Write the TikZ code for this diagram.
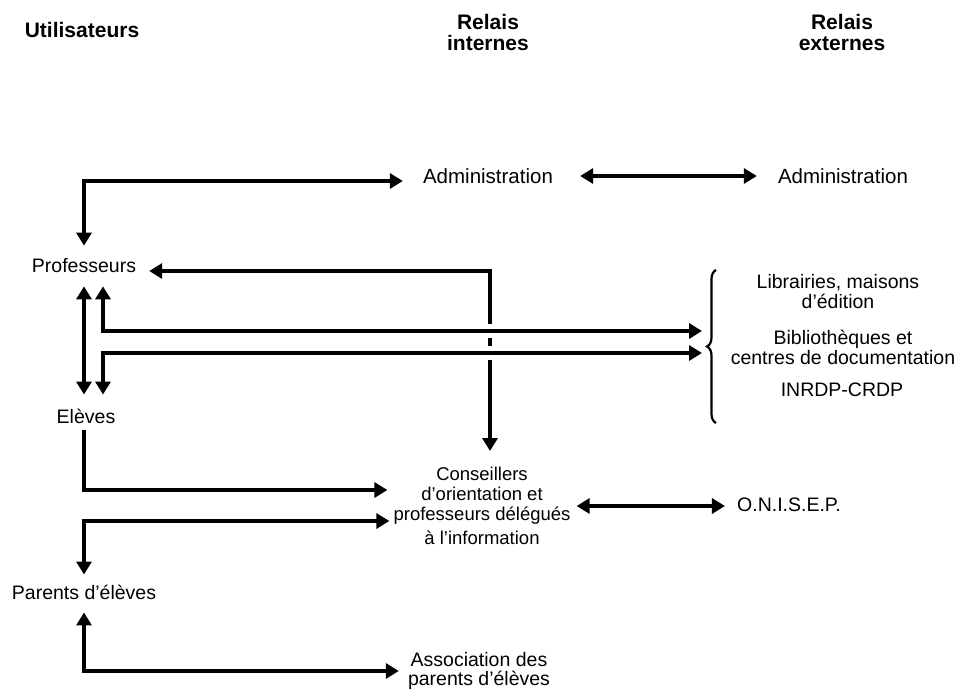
\documentclass[tikz,border=0pt]{standalone}
\usepackage{fontspec}
\setmainfont{Liberation Sans}
\usetikzlibrary{arrows.meta,decorations.pathreplacing}
\begin{document}
\begin{tikzpicture}[x=1pt,y=-1pt,
  lbl/.style={inner sep=0pt, font=\fontsize{19.5}{20}\selectfont, align=center},
  head/.style={inner sep=0pt, font=\fontsize{21}{21}\selectfont\bfseries, align=center},
  link/.style={line width=3.2pt, -{Triangle[length=13pt,width=15pt]}},
  both/.style={line width=3.2pt, {Triangle[length=13pt,width=15pt]}-{Triangle[length=13pt,width=15pt]}},
  gap/.style={white, line width=14pt}
]
\useasboundingbox (0,0) rectangle (966,689);

% column headings
\node[head] (ut) at (82,30) {Utilisateurs};
\node[head] (ri) at (488,32) {Relais\\internes};
\node[head] (re) at (842,32) {Relais\\externes};

% users
\node[lbl] (prof) at (84,266) {Professeurs};
\node[lbl] (elev) at (86,416) {Elèves};
\node[lbl] (parents) at (84,592) {Parents d’élèves};

% internal relays
\node[lbl, font=\fontsize{20.5}{20}\selectfont] (admI) at (488,176) {Administration};
\node[lbl, font=\fontsize{18.5}{20}\selectfont] (cons) at (482,506) {Conseillers\\d’orientation et\\professeurs délégués\\[4pt]à l’information};
\node[lbl, font=\fontsize{19.5}{19}\selectfont] (assoc) at (479,671) {Association des\\parents d’élèves};

% external relays
\node[lbl, font=\fontsize{20.5}{20}\selectfont] (admE) at (843,176) {Administration};
\node[lbl] (onisep) at (789,505) {O.N.I.S.E.P.};
\node[lbl] (lib1) at (838,292) {Librairies, maisons\\d’édition};
\node[lbl] (lib2) at (843,347) {Bibliothèques et\\centres de documentation};
\node[lbl] (lib3) at (842,390) {INRDP-CRDP};

% bends of the connectors
\coordinate (cA) at (84,181);
\coordinate (cP) at (490,271);
\coordinate (h1) at (103,331);
\coordinate (h2) at (103,353);
\coordinate (e1) at (84,490);
\coordinate (p1) at (84,521);
\coordinate (p2) at (84,671);
\coordinate (bT) at (716,270);
\coordinate (bB) at (716,423);
\coordinate (br) at (707,347);

% brace grouping the documentation sources
\draw[line width=2.2pt, decorate, decoration={brace, amplitude=9pt}] (bB) -- (bT);

% Professeurs <-> Administration
\draw[both, shorten <=13pt, shorten >=20pt] (prof.north) -- (cA) -- (cA -| admI.west);
% Administration <-> Administration
\draw[both, shorten <=27pt, shorten >=21pt] (admI.east) -- (admI.east -| admE.west);
% Professeurs <-> Conseillers
\draw[both, shorten <=13pt, shorten >=16pt] (cP -| prof.east) -- (cP) -- (cP |- cons.north);
% breaks in the vertical line where the horizontals cross it
\path (cP |- h1) coordinate (x1) (cP |- h2) coordinate (x2);
\draw[gap] (x1) ++(-8,0) -- ++(16,0);
\draw[gap] (x2) ++(-8,0) -- ++(16,0);
% Professeurs / Elèves <-> documentation
\draw[both, shorten <=13pt, shorten >=5pt] (h1 |- prof.south) -- (h1) -- (h1 -| br);
\draw[both, shorten <=5pt, shorten >=14pt] (h2 -| br) -- (h2) -- (h2 |- elev.north);
% Professeurs <-> Elèves
\draw[both, shorten <=13pt, shorten >=14pt] (prof.south) -- (prof.south |- elev.north);
% Elèves -> Conseillers
\draw[link, shorten <=7pt, shorten >=6pt] (e1 |- elev.south) -- (e1) -- (e1 -| cons.west);
% Parents <-> Conseillers
\draw[both, shorten <=10pt, shorten >=4pt] (parents.north) -- (p1) -- (p1 -| cons.west);
% Parents <-> Association
\draw[both, shorten <=13pt, shorten >=9pt] (parents.south) -- (p2) -- (p2 -| assoc.west);
% Conseillers <-> O.N.I.S.E.P.
\draw[both, shorten <=6pt, shorten >=12pt] (cons.east) -- (cons.east -| onisep.west);
\end{tikzpicture}
\end{document}
